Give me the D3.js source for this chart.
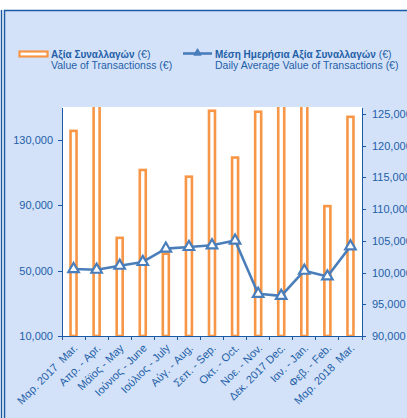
<!DOCTYPE html>
<html lang="el">
<head>
<meta charset="UTF-8">
<title>Value of Transactions</title>
<script src="https://d3js.org/d3.v7.min.js"></script>
<style>
body { margin: 0; background: #fff; }
.axis path, .axis line { stroke: #1b5aa6; shape-rendering: crispEdges; }
.axis text { font-family: "Liberation Sans", Arial, sans-serif; font-size: 11px; fill: #1f5fa8; white-space: pre; }
.lg { font-family: "Liberation Sans", Arial, sans-serif; font-size: 10.5px; fill: #1f5fa8; }
.lg .b { font-weight: bold; font-size: 10px; }
</style>
</head>
<body>
<script>
// categories (months)
var months = ["Μαρ. 2017  Mar.", "Απρ. - Apr.", "Μάϊος - May", "Ιούνιος - June", "Ιούλιος - July",
  "Αύγ. - Aug.", "Σεπ. - Sep.", "Οκτ. - Oct.", "Νοε. - Nov.", "Δεκ. 2017 Dec.",
  "Ιαν. - Jan.", "Φεβ. - Feb.", "Μαρ. 2018  Mar."];
// value of transactions (left axis, bars)
var valueTx = [135400, 165000, 70000, 111500, 60300, 107400, 147700, 119100, 147100, 170000, 165000, 89400, 144000];
// daily average value (right axis, line)
var dailyAvg = [100560, 100450, 101080, 101670, 103780, 104040, 104300, 105040, 96650, 96330, 100290, 99390, 104140];
var leftTicks = [10000, 50000, 90000, 130000];
var rightTicks = [90000, 95000, 100000, 105000, 110000, 115000, 120000, 125000];

var W = 407, H = 418;
var m = {left: 62, right: 362, top: 107, bottom: 336};

var svg = d3.select("body").append("svg").attr("width", W).attr("height", H);

// panel background + border
svg.append("rect").attr("x", 4.5).attr("y", 10.5).attr("width", W).attr("height", H)
  .attr("fill", "#d3e2f8").attr("stroke", "#1b5aa6").attr("stroke-width", 1.5);
svg.append("line").attr("x1", 1.5).attr("x2", 1.5).attr("y1", 10).attr("y2", H)
  .attr("stroke", "#1b5aa6").attr("stroke-width", 1.5);

svg.append("rect").attr("x", m.left).attr("y", m.top)
  .attr("width", m.right - m.left).attr("height", m.bottom - m.top).attr("fill", "#fff");

var x = d3.scaleBand().domain(months).range([m.left, m.right]);
var yL = d3.scaleLinear().domain([10000, 150000]).range([m.bottom, m.top]);
var yR = d3.scaleLinear().domain([90000, 126100]).range([m.bottom, m.top]);

svg.append("clipPath").attr("id", "plot").append("rect")
  .attr("x", m.left).attr("y", m.top).attr("width", m.right - m.left).attr("height", m.bottom - m.top);

// bars
svg.append("g").attr("clip-path", "url(#plot)").selectAll("rect")
  .data(valueTx).enter().append("rect")
  .attr("x", function(d, i) { return x(months[i]) + x.bandwidth() / 2 - 3; })
  .attr("y", function(d) { return yL(d); })
  .attr("width", 6)
  .attr("height", function(d) { return m.bottom - yL(d); })
  .attr("fill", "#fff").attr("stroke", "#f79646").attr("stroke-width", 2.6);

// axes
var fmt = d3.format(",");
svg.append("g").attr("class", "axis").attr("transform", "translate(" + m.left + ",0)")
  .call(d3.axisLeft(yL).tickValues(leftTicks).tickFormat(fmt).tickSize(4).tickSizeOuter(0).tickPadding(5));
svg.append("g").attr("class", "axis").attr("transform", "translate(" + m.right + ",0)")
  .call(d3.axisRight(yR).tickValues(rightTicks).tickFormat(fmt).tickSize(4).tickSizeOuter(0).tickPadding(6));

var xAxis = svg.append("g").attr("class", "axis").attr("transform", "translate(0," + m.bottom + ")")
  .call(d3.axisBottom(x).tickSize(0).tickSizeOuter(0));
xAxis.selectAll("text")
  .attr("x", 0).attr("y", 0).attr("dy", "0.35em")
  .attr("text-anchor", "end")
  .attr("transform", "translate(2,10) rotate(-45)");
// boundary ticks
xAxis.selectAll("line.bnd").data(d3.range(months.length + 1)).enter().append("line")
  .attr("class", "bnd")
  .attr("x1", function(i) { return m.left + i * x.step(); })
  .attr("x2", function(i) { return m.left + i * x.step(); })
  .attr("y1", 0).attr("y2", 4);

// line series
var line = d3.line()
  .x(function(d, i) { return x(months[i]) + x.bandwidth() / 2; })
  .y(function(d) { return yR(d); });
svg.append("path").datum(dailyAvg).attr("d", line)
  .attr("fill", "none").attr("stroke", "#4a7ebb").attr("stroke-width", 2.6).attr("stroke-linejoin", "round");
var tri = d3.symbol().type(d3.symbolTriangle).size(48);
svg.selectAll("path.mk").data(dailyAvg).enter().append("path").attr("class", "mk")
  .attr("d", tri)
  .attr("transform", function(d, i) { return "translate(" + (x(months[i]) + x.bandwidth() / 2) + "," + yR(d) + ")"; })
  .attr("fill", "#fff").attr("stroke", "#4a7ebb").attr("stroke-width", 2.2);

// legend
svg.append("rect").attr("x", 19.5).attr("y", 51.5).attr("width", 28).attr("height", 5)
  .attr("fill", "#fff").attr("stroke", "#f79646").attr("stroke-width", 2.2);
var t1 = svg.append("text").attr("class", "lg").attr("x", 51).attr("y", 58);
t1.append("tspan").attr("class", "b").text("Αξία Συναλλαγών");
t1.append("tspan").text(" (€)");
svg.append("text").attr("class", "lg").attr("x", 51).attr("y", 69).text("Value of Transactionss (€)");

svg.append("line").attr("x1", 183).attr("x2", 212).attr("y1", 53.5).attr("y2", 53.5)
  .attr("stroke", "#4a7ebb").attr("stroke-width", 2.6);
svg.append("path").attr("d", d3.symbol().type(d3.symbolTriangle).size(24))
  .attr("transform", "translate(197.5,53)").attr("fill", "#4a7ebb").attr("stroke", "#4a7ebb");
var t2 = svg.append("text").attr("class", "lg").attr("x", 215).attr("y", 58);
t2.append("tspan").attr("class", "b").text("Μέση Ημερήσια Αξία Συναλλαγών");
t2.append("tspan").text(" (€)");
svg.append("text").attr("class", "lg").attr("x", 215).attr("y", 69).text("Daily Average Value of Transactions (€)");
</script>
</body>
</html>
